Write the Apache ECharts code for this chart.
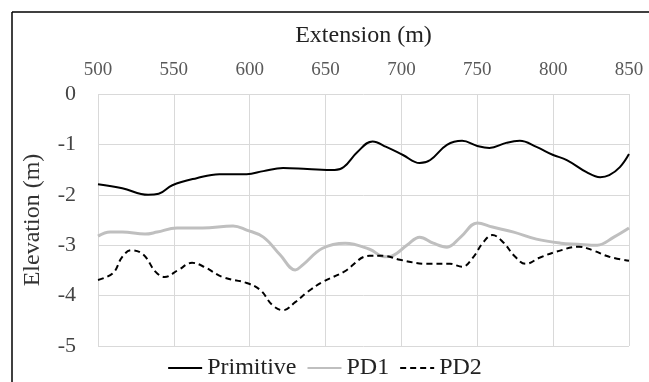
<!DOCTYPE html>
<html>
<head>
<meta charset="utf-8">
<script src="https://cdn.jsdelivr.net/npm/echarts@6/dist/echarts.min.js"></script>
<style>
  html, body { margin: 0; padding: 0; background: #fff; }
  #chart { width: 649px; height: 382px; }
</style>
</head>
<body>
<div id="chart"></div>
<script>
// Extension (m) / elevation (m)
const primitiveX = [500, 516, 533, 540, 549, 565, 580, 598, 609, 622, 638, 656, 662, 671, 681, 690, 701, 712, 719, 730, 740, 750, 758, 769, 778, 789, 800, 809, 822, 831, 837, 844, 850];
const primitiveY = [-1.79, -1.87, -2.0, -1.98, -1.81, -1.67, -1.59, -1.59, -1.53, -1.47, -1.49, -1.51, -1.45, -1.15, -0.94, -1.05, -1.21, -1.37, -1.31, -1.01, -0.93, -1.03, -1.07, -0.97, -0.93, -1.05, -1.21, -1.31, -1.55, -1.65, -1.61, -1.45, -1.19];

const pd1X = [500, 508, 516, 531, 539, 552, 569, 589, 598, 609, 620, 630, 635, 648, 663, 679, 689, 694, 704, 712, 721, 730, 739, 750, 760, 774, 789, 805, 816, 829, 840, 850];
const pd1Y = [-2.82, -2.74, -2.74, -2.78, -2.74, -2.66, -2.66, -2.62, -2.7, -2.84, -3.19, -3.49, -3.39, -3.06, -2.96, -3.08, -3.23, -3.21, -2.99, -2.84, -2.96, -3.04, -2.84, -2.56, -2.64, -2.74, -2.88, -2.96, -2.98, -3.0, -2.84, -2.66];

const pd2X = [500, 510, 516, 522, 530, 538, 544, 553, 562, 570, 582, 598, 607, 615, 622, 630, 638, 648, 662, 679, 688, 699, 717, 732, 740, 747, 754, 760, 767, 775, 782, 791, 802, 817, 826, 837, 850];
const pd2Y = [-3.69, -3.55, -3.23, -3.1, -3.19, -3.53, -3.63, -3.49, -3.35, -3.43, -3.63, -3.75, -3.89, -4.19, -4.29, -4.13, -3.93, -3.73, -3.53, -3.21, -3.21, -3.29, -3.37, -3.37, -3.43, -3.25, -2.94, -2.8, -2.94, -3.23, -3.37, -3.25, -3.13, -3.03, -3.1, -3.23, -3.31];

const seriesNames = ['Primitive', 'PD1', 'PD2'];

const serif = '"Liberation Serif", "DejaVu Serif", serif';

function pairs(xs, ys) {
  return xs.map((x, i) => [x, ys[i]]);
}

const chart = echarts.init(document.getElementById('chart'));

const option = {
  animation: false,
  grid: { left: 98, right: 20, top: 94, bottom: 36 },
  graphic: [
    // outer frame (top and left edges only, as in the cropped figure)
    { type: 'line', shape: { x1: 12, y1: 12, x2: 649, y2: 12 }, style: { stroke: '#000', lineWidth: 1.5 } },
    { type: 'line', shape: { x1: 12, y1: 12, x2: 12, y2: 382 }, style: { stroke: '#000', lineWidth: 1.5 } },
  ],
  legend: {
    top: 351,
    left: 'center',
    itemWidth: 34,
    itemHeight: 10,
    itemGap: 10,
    itemStyle: { opacity: 0 },
    textStyle: { fontFamily: serif, fontSize: 24, color: '#222' },
    data: seriesNames,
  },
  xAxis: {
    type: 'value',
    position: 'top',
    min: 500,
    max: 850,
    interval: 50,
    name: 'Extension (m)',
    nameLocation: 'middle',
    nameGap: 46,
    nameTextStyle: { fontFamily: serif, fontSize: 24, color: '#222' },
    axisLine: { show: false },
    axisTick: { show: false },
    axisLabel: { fontFamily: serif, fontSize: 19, color: '#595959', margin: 14 },
    splitLine: { show: true, lineStyle: { color: '#d9d9d9', width: 1 } },
  },
  yAxis: {
    type: 'value',
    min: -5,
    max: 0,
    interval: 1,
    name: 'Elevation (m)',
    nameLocation: 'middle',
    nameGap: 53,
    nameTextStyle: { fontFamily: serif, fontSize: 24, color: '#333' },
    axisLine: { show: false },
    axisTick: { show: false },
    axisLabel: { fontFamily: serif, fontSize: 22, color: '#444', margin: 22 },
    splitLine: { show: true, lineStyle: { color: '#d9d9d9', width: 1 } },
  },
  series: [
    {
      name: 'Primitive',
      type: 'line',
      smooth: 0.4,
      symbol: 'none',
      data: pairs(primitiveX, primitiveY),
      itemStyle: { color: '#000' },
      lineStyle: { color: '#000', width: 2 },
      z: 3,
    },
    {
      name: 'PD1',
      type: 'line',
      smooth: 0.4,
      symbol: 'none',
      data: pairs(pd1X, pd1Y),
      itemStyle: { color: '#bfbfbf' },
      lineStyle: { color: '#bfbfbf', width: 3 },
      z: 2,
    },
    {
      name: 'PD2',
      type: 'line',
      smooth: 0.4,
      symbol: 'none',
      data: pairs(pd2X, pd2Y),
      itemStyle: { color: '#000' },
      lineStyle: { color: '#000', width: 2, type: [6, 4] },
      z: 3,
    },
  ],
};

chart.setOption(option);
</script>
</body>
</html>
